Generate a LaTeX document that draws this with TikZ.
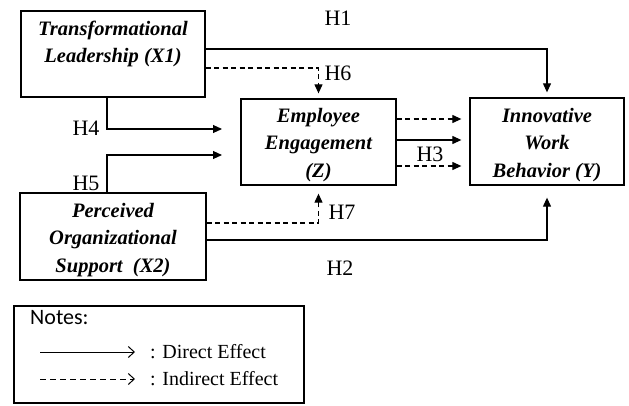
\documentclass[tikz,border=0pt]{standalone}
\usepackage{fontspec}
\setmainfont{Liberation Serif}
\newfontfamily\notefont{Carlito}
\usetikzlibrary{arrows.meta}
\begin{document}
\begin{tikzpicture}[x=1pt,y=-1pt,
  box/.style={draw, line width=1.3pt, rectangle, inner sep=0pt},
  lbl/.style={font=\fontsize{20.5}{27.5}\selectfont\bfseries\itshape, align=center, inner sep=0pt},
  hyp/.style={font=\fontsize{22}{22}\selectfont, inner sep=0pt},
  arr/.style={-{Triangle[length=9pt,width=8pt]}, line width=1.1pt},
  darr/.style={arr, dash pattern=on 5pt off 3.5pt},
  legarr/.style={-{Straight Barb[length=6pt,width=11pt]}, line width=1pt},
  legtxt/.style={font=\fontsize{20}{20}\selectfont, inner sep=0pt, anchor=west},
]
\useasboundingbox (0,0) rectangle (629,405);
% boxes
\node[box, minimum width=184pt, minimum height=86pt] (X1) at (113,54) {};
\node[box, minimum width=155pt, minimum height=86pt] (Z) at (318.5,142) {};
\node[box, minimum width=154pt, minimum height=87pt] (Y) at (547,141.5) {};
\node[box, minimum width=186pt, minimum height=87pt] (X2) at (113,236.5) {};
\node[draw, line width=2.2pt, minimum width=290pt, minimum height=97pt, inner sep=0pt] (L) at (159,354.5) {};
% box texts
\node[lbl] (tX1) at (113,44) {Transformational\\Leadership (X1)};
\node[lbl] (tZ) at (318.5,145) {Employee\\Engagement\\(Z)};
\node[lbl] (tY) at (547,145) {Innovative\\Work\\Behavior (Y)};
\node[lbl] (tX2) at (113,240) {Perceived\\Organizational\\Support~ (X2)};
% helper coordinates
\coordinate (r49) at (0,49);
\coordinate (r68) at (0,68);
\coordinate (r119) at (0,119);
\coordinate (r140) at (0,140);
\coordinate (r166) at (0,166);
\coordinate (r223) at (0,223);
\coordinate (r240) at (0,240);
\coordinate (c107) at (107,0);
\coordinate (h4end) at (222,129);
\coordinate (h5end) at (222,155);
% connectors
\draw[arr, shorten >=5pt] (X1.east |- r49) -| (Y.north);
\draw[darr, shorten >=5pt] (X1.east |- r68) -| (Z.north);
\draw[arr] (X1.south -| c107) |- (h4end);
\draw[arr] (X2.north -| c107) |- (h5end);
\draw[darr, shorten >=8pt] (Z.east |- r119) -- (Y.west |- r119);
\draw[arr, shorten >=8pt] (Z.east |- r140) -- (Y.west |- r140);
\draw[darr, shorten >=8pt] (Z.east |- r166) -- (Y.west |- r166);
\draw[darr, shorten >=8pt] (X2.east |- r223) -| (Z.south);
\draw[arr, shorten >=12pt] (X2.east |- r240) -| (Y.south);
% hypothesis labels
\node[hyp] (H1) at (338,18) {H1};
\node[hyp] (H6) at (338,73) {H6};
\node[hyp] (H4) at (86,128) {H4};
\node[hyp] (H5) at (86,183) {H5};
\node[hyp] (H3) at (430,154) {H3};
\node[hyp] (H7) at (342,212) {H7};
\node[hyp] (H2) at (340,268) {H2};
% legend
\node[font=\notefont\fontsize{22}{22}\selectfont, inner sep=0pt, anchor=west] (notes) at (30,318) {Notes:};
\coordinate (la1) at (40,352);
\coordinate (la2) at (135,352);
\coordinate (lb1) at (40,379);
\coordinate (lb2) at (135,379);
\draw[legarr] (la1) -- (la2);
\draw[legarr, dash pattern=on 6pt off 4pt] (lb1) -- (lb2);
\node[legtxt] (d1) at (150,352) {: Direct Effect};
\node[legtxt] (d2) at (150,379) {: Indirect Effect};
\end{tikzpicture}
\end{document}
